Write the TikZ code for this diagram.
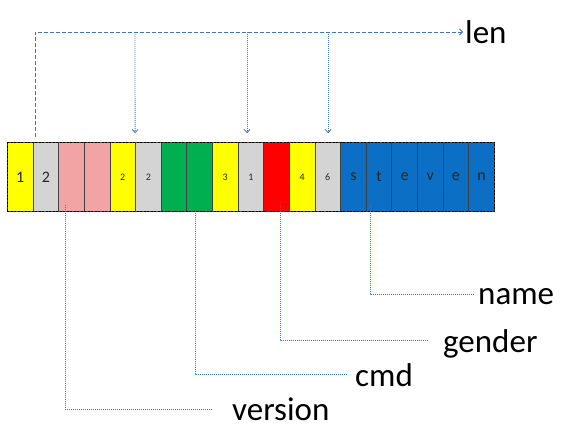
\documentclass[tikz,border=0pt]{standalone}
\usepackage{fontspec}
\setmainfont{Carlito}
\usetikzlibrary{arrows.meta}
\definecolor{cyel}{HTML}{FFFF00}
\definecolor{cgry}{HTML}{D4D4D4}
\definecolor{cpnk}{HTML}{F2A4A4}
\definecolor{cgrn}{HTML}{00B050}
\definecolor{cred}{HTML}{FF0000}
\definecolor{cblu}{HTML}{0B6FC6}
\definecolor{lnblue}{HTML}{3A75C0}
\begin{document}
\begin{tikzpicture}[x=1pt,y=-1pt,
  cell/.style={draw=black!75, line width=0.8pt, minimum width=25.63pt, minimum height=69pt,
    inner sep=0pt, anchor=north west, text=black!85},
  cbig/.style={font=\fontsize{16}{16}\selectfont},
  csmall/.style={font=\fontsize{10}{10}\selectfont},
  cmid/.style={font=\fontsize{16}{16}\selectfont},
  lbl/.style={font=\fontsize{33}{33}\selectfont, inner sep=0pt, anchor=base west},
  dashline/.style={draw=lnblue, line width=0.8pt, dash pattern=on 4pt off 2pt},
  dotline/.style={draw=lnblue, line width=0.8pt, dash pattern=on 1pt off 1pt},
  tip/.style={-{Straight Barb[length=3pt,width=6pt]}}
]
\useasboundingbox (0,0) rectangle (576,434);
\foreach \i/\col/\txt/\sz in {1/cyel/1/cbig, 2/cgry/2/cbig, 3/cpnk//csmall, 4/cpnk//csmall,
  5/cyel/2/csmall, 6/cgry/2/csmall, 7/cgrn//csmall, 8/cgrn//csmall, 9/cyel/3/csmall,
  10/cgry/1/csmall, 11/cred//csmall, 12/cyel/4/csmall, 13/cgry/6/csmall,
  14/cblu/s/cmid, 15/cblu/t/cmid, 16/cblu/e/cmid, 17/cblu/v/cmid, 18/cblu/e/cmid, 19/cblu/n/cmid}
  \node[cell, fill=\col, \sz] (c\i) at ({7+(\i-1)*25.63},142) {\txt};
\draw[black, line width=0.9pt, dash pattern=on 2pt off 1.5pt] (c1.north west) rectangle (c19.south east);

% len
\node[lbl] (len) at (465,43) {len};
\coordinate (lenbot) at (35,137);
\coordinate (lentop) at (35,32);
\coordinate (lenend) at (463,32);
\draw[dashline, tip] (lenbot) -- (lentop) -- (lenend);
\coordinate (d1) at (135,32);
\coordinate (d2) at (247,32);
\coordinate (d3) at (328,32);
\draw[dotline, tip] (d1) -- (c6.north west |- 0,133);
\draw[dotline, tip] (d2) -- (247,133);
\draw[dotline, tip] (d3) -- (328,133);

% bottom labels
\node[lbl] (name) at (478,304) {name};
\node[lbl] (gender) at (443,352) {gender};
\node[lbl] (cmd) at (355,386) {cmd};
\node[lbl] (version) at (232,420) {version};

\coordinate (ns) at (370,205);
\coordinate (ne) at (474,294);
\coordinate (gs) at (280,205);
\coordinate (ge) at (428,340);
\coordinate (cs) at (195,205);
\coordinate (ce) at (347,374);
\coordinate (vs) at (65,205);
\coordinate (ve) at (213,409);
\draw[dotline] (ns) |- (ne);
\draw[dotline] (gs) |- (ge);
\draw[dotline] (cs) |- (ce);
\draw[dotline] (vs) |- (ve);
\end{tikzpicture}
\end{document}
